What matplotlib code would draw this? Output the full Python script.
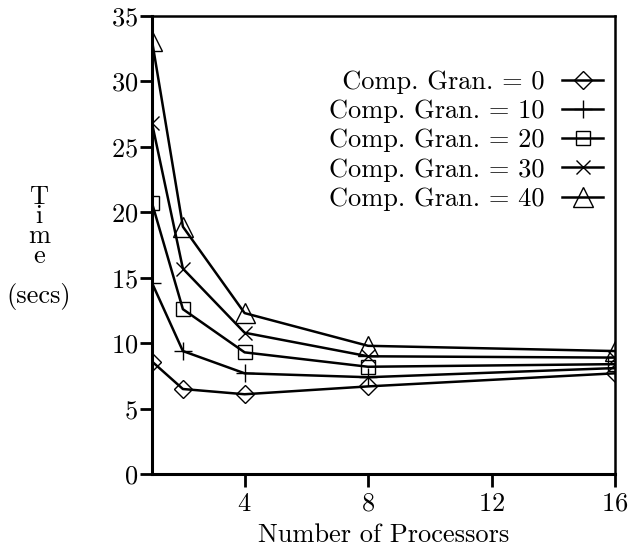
import matplotlib
matplotlib.use("Agg")
import matplotlib.pyplot as plt
from matplotlib.legend_handler import HandlerLine2D

plt.rcParams['font.family'] = ['cmr10', 'DejaVu Serif']
plt.rcParams['axes.formatter.use_mathtext'] = True

procs = [1, 2, 4, 8, 16]
gran0 = [8.6, 6.5, 6.1, 6.7, 7.7]
gran10 = [14.6, 9.4, 7.7, 7.4, 8.1]
gran20 = [20.7, 12.6, 9.3, 8.2, 8.4]
gran30 = [26.8, 15.7, 10.8, 9.0, 8.9]
gran40 = [33.1, 18.9, 12.3, 9.8, 9.4]
labels = ["\u2002Comp. Gran. = 0", "Comp. Gran. = 10", "Comp. Gran. = 20",
          "Comp. Gran. = 30", "Comp. Gran. = 40"]
markers = ['D', '+', 's', 'x', '^']
sizes = [9, 13, 10.5, 10, 14]


# gnuplot-style key: marker sits near the left end of the sample line
class LeftMarker(HandlerLine2D):
    def get_xdata(self, legend, xdescent, ydescent, width, height, fontsize):
        xdata = [-xdescent, -xdescent + width]
        return xdata, [-xdescent + 0.27 * width]


fig = plt.figure(figsize=(6.29, 5.5), dpi=100)
ax = fig.add_axes([0.2417, 0.138, 0.736, 0.833])

for ys, lab, m, s in zip([gran0, gran10, gran20, gran30, gran40], labels, markers, sizes):
    ax.plot(procs, ys, color='black', lw=1.8, marker=m, ms=s,
            mfc='none', mec='black', mew=1.0, label=lab)

ax.set_xlim(1, 16)
ax.set_ylim(0, 35)
ax.set_xticks([4, 8, 12, 16])
ax.set_yticks([0, 5, 10, 15, 20, 25, 30, 35])
ax.tick_params(direction='out', length=9, width=2, labelsize=19, pad=1)
ax.tick_params(axis='x', pad=4)
for side in ['left', 'bottom']:
    ax.spines[side].set_linewidth(2.2)
for side in ['top', 'right']:
    ax.spines[side].set_linewidth(1.8)

ax.set_xlabel("Number of Processors", fontsize=19, labelpad=5)
fig.text(0.062, 0.55, "T\ni\nm\ne\n\n(secs)", fontsize=19, ha='center', va='center',
         linespacing=0.78)

ax.legend(loc='upper right', bbox_to_anchor=(0.997, 0.905), frameon=False, markerfirst=False,
          fontsize=19, handlelength=1.55, handletextpad=0.65, labelspacing=0.21,
          borderaxespad=0.0, handler_map={plt.Line2D: LeftMarker()})

fig.savefig("out.png", dpi=100)
